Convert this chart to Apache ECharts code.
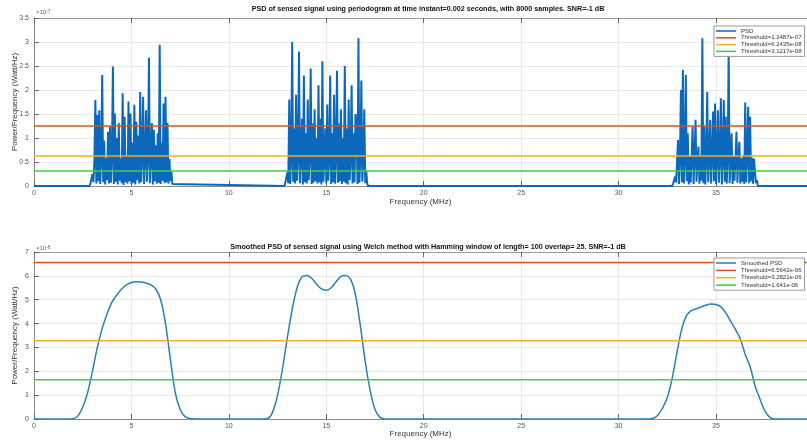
<!DOCTYPE html>
<html lang="en">
<head>
    <meta charset="UTF-8">
    <title>PSD charts</title>
</head>
<style type="text/css">
    *{
        margin: 0;
        padding: 0;
    }
    body{
        background: #fff;
    }
    #main{
        width: 807px;
        height: 442px;
    }
</style>
<body>
<div id="main"></div>
</body>
<script src="https://cdn.jsdelivr.net/npm/echarts/dist/echarts.min.js"></script>
<script>
    // periodogram, values in units of 1e-7 W/Hz, sampled every 0.05 MHz from band start
    var bandStart = [2.85, 12.85, 32.75];
    var bandStep = 0.05;
    var psdBand1 = [0.00,0.06,0.02,0.25,0.08,0.52,1.79,0.05,1.48,0.10,1.58,0.04,0.60,2.31,0.08,0.95,0.03,0.58,0.12,1.13,
        0.05,1.24,0.07,0.62,2.49,0.04,1.51,0.09,1.00,0.03,1.31,0.11,0.57,0.06,1.93,0.02,1.44,0.08,0.63,0.05,
        1.76,0.10,1.51,0.04,0.90,0.07,1.69,0.03,1.34,0.12,1.05,0.05,1.96,0.08,0.60,1.86,0.04,0.55,1.58,0.09,
        0.61,2.67,0.06,0.58,1.31,0.03,1.17,0.10,0.85,0.05,1.10,0.07,2.94,0.04,0.90,0.11,1.72,0.06,1.86,0.08,
        1.31,0.05,0.56,0.10,0.30,0.04,0.00];
    var psdBand2 = [0.00,0.07,0.03,0.28,0.06,1.80,0.04,0.58,3.00,0.09,1.20,0.05,1.90,0.11,0.61,2.80,0.06,0.57,1.40,0.03,
        2.30,0.08,1.10,0.05,1.80,0.12,0.62,2.45,0.04,1.30,0.07,1.60,0.10,1.00,0.05,2.10,0.08,1.40,0.03,2.60,
        0.09,0.59,1.20,0.06,1.70,0.11,0.60,2.30,0.04,1.10,0.08,1.90,0.05,0.63,2.40,0.07,1.30,0.10,1.60,0.04,
        1.00,0.09,2.50,0.06,1.20,0.03,1.80,0.12,0.58,2.10,0.05,1.10,0.08,1.50,1.30,0.04,3.08,0.07,0.60,2.20,
        0.09,0.56,1.60,0.06,0.32,0.05,0.00];
    var psdBand3 = [0.00,0.05,0.02,0.20,0.07,0.50,0.96,0.04,0.60,2.00,0.08,2.42,0.05,0.58,2.31,0.10,1.10,0.03,0.62,0.07,
        0.59,1.24,0.04,0.61,1.38,0.09,0.57,0.82,0.05,0.63,0.11,3.08,0.06,1.24,0.03,0.60,1.96,0.08,0.58,1.38,
        0.05,0.62,1.55,0.10,1.72,0.04,0.59,1.58,0.07,0.61,1.83,0.03,0.57,1.79,0.09,1.44,0.05,0.60,2.83,0.06,
        0.58,1.10,0.04,0.62,0.11,0.59,1.13,0.07,0.61,0.92,0.05,0.58,0.09,0.63,0.04,1.74,0.08,0.60,1.65,0.06,
        1.44,0.10,0.59,0.05,0.57,0.30,0.06,0.12,0.00];
    var psdThresholds = [1.2487, 0.62435, 0.31217];
    var psdNames = ['PSD', 'Threshold=1.2487e-07', 'Threshold=6.2435e-08', 'Threshold=3.1217e-08'];

    // Welch estimate, values in units of 1e-6 W/Hz
    var welchFreq = [0, 1.75, 2.0, 2.25, 2.5, 2.75, 3.0, 3.25, 3.5, 3.75, 4.0, 4.25, 4.5, 4.75, 5.0, 5.25, 5.5, 5.75, 6.0, 6.25,
        6.5, 6.75, 7.0, 7.25, 7.5, 7.75, 8.0, 8.25,
        11.75, 12.0, 12.25, 12.5, 12.75, 13.0, 13.25, 13.5, 13.75, 14.0, 14.25, 14.5, 14.75, 15.0, 15.25, 15.5, 15.75, 16.0,
        16.25, 16.5, 16.75, 17.0, 17.25, 17.5, 17.75, 18.0,
        31.5, 31.75, 32.0, 32.25, 32.5, 32.75, 33.0, 33.25, 33.5, 33.75, 34.0, 34.25, 34.5, 34.75, 35.0, 35.25, 35.5, 35.75,
        36.0, 36.25, 36.5, 36.75, 37.0, 37.25, 37.5, 37.75, 38.0, 39.67];
    var welchPsd = [0, 0, 0.01, 0.12, 0.5, 1.1, 2.0, 3.0, 3.8, 4.4, 4.9, 5.2, 5.45, 5.62, 5.72, 5.75, 5.74, 5.7, 5.62, 5.45,
        5.0, 4.0, 2.5, 1.1, 0.4, 0.1, 0.02, 0,
        0, 0.02, 0.3, 1.0, 2.1, 3.4, 4.6, 5.5, 5.95, 6.02, 5.9, 5.65, 5.45, 5.4, 5.5, 5.75, 5.98, 6.02,
        5.85, 5.2, 3.9, 2.4, 1.2, 0.4, 0.08, 0,
        0, 0.02, 0.15, 0.45, 0.9, 1.7, 2.8, 3.8, 4.35, 4.55, 4.62, 4.7, 4.78, 4.82, 4.8, 4.7, 4.45, 4.1,
        3.75, 3.35, 2.7, 2.2, 1.4, 0.85, 0.35, 0.08, 0, 0];
    var welchThresholds = [6.5642, 3.2821, 1.641];
    var welchNames = ['Smoothed PSD', 'Threshold=6.5642e-06', 'Threshold=3.2821e-06', 'Threshold=1.641e-06'];

    var xMax = 39.67;
    var font = 'Liberation Sans, Arial, sans-serif';
    var lineColors = ['#D95319', '#EDB120', '#3fcf3f'];

    // build periodogram points
    var psdData = [[0, 0]];
    [psdBand1, psdBand2, psdBand3].forEach(function (band, b) {
        for (var i = 0; i < band.length; i++) {
            psdData.push([bandStart[b] + i * bandStep, band[i]]);
        }
    });
    psdData.push([xMax, 0]);

    var welchData = [];
    for (var i = 0; i < welchFreq.length; i++) {
        welchData.push([welchFreq[i], welchPsd[i]]);
    }

    function xAxes(grid, gap) {
        return [{
            gridIndex: grid, type: 'value', min: 0, max: xMax, interval: 5,
            axisLine: {show: true, lineStyle: {color: '#8a8a8a', width: 1}},
            axisTick: {show: true, inside: true, length: 5, lineStyle: {color: '#666'}},
            axisLabel: {fontSize: 7, color: '#555', margin: 4, fontFamily: font, showMaxLabel: false},
            splitLine: {show: true, lineStyle: {color: '#e8e8e8', width: 1}},
            name: 'Frequency (MHz)', nameLocation: 'middle', nameGap: gap, nameMoveOverlap: false,
            nameTextStyle: {fontSize: 8, color: '#333', fontFamily: font}
        }, {
            gridIndex: grid, type: 'value', position: 'top', min: 0, max: xMax, interval: 5,
            axisLine: {show: true, lineStyle: {color: '#9a9a9a', width: 1}},
            axisTick: {show: true, inside: true, length: 5, lineStyle: {color: '#666'}},
            axisLabel: {show: false},
            splitLine: {show: false}
        }];
    }

    function yAxis(grid, max, interval) {
        return {
            gridIndex: grid, type: 'value', min: 0, max: max, interval: interval,
            axisLine: {show: true, lineStyle: {color: '#8a8a8a', width: 1}},
            axisTick: {show: true, inside: true, length: 5, lineStyle: {color: '#666'}},
            axisLabel: {fontSize: 7, color: '#555', margin: 5, fontFamily: font},
            splitLine: {show: true, lineStyle: {color: '#e8e8e8', width: 1}},
            name: 'Power/Frequency (Watt/Hz)', nameLocation: 'middle', nameGap: 15, nameMoveOverlap: false,
            nameTextStyle: {fontSize: 8, color: '#333', fontFamily: font}
        };
    }

    function legend(names, top, gap) {
        return {
            data: names, orient: 'vertical', left: 714, top: top,
            icon: 'rect', itemWidth: 20, itemHeight: 1.5, itemGap: gap,
            selectedMode: false,
            textStyle: {fontSize: 6, color: '#333', fontFamily: font},
            backgroundColor: '#fff', borderColor: '#9a9a9a', borderWidth: 1,
            padding: [2, 3, 2, 2]
        };
    }

    function thresholdSeries(names, values, xIdx, yIdx) {
        return values.map(function (v, k) {
            return {
                name: names[k + 1], type: 'line', xAxisIndex: xIdx, yAxisIndex: yIdx,
                data: [[0, v], [xMax, v]], symbol: 'none', silent: true,
                lineStyle: {color: lineColors[k], width: 1.5},
                itemStyle: {color: lineColors[k]}
            };
        });
    }

    var myChart = echarts.init(document.getElementById('main'));
    var option = {
        animation: false,
        backgroundColor: '#fff',
        title: [{
            text: 'PSD of sensed signal using periodogram at time instant=0.002 seconds, with 8000 samples. SNR=-1 dB',
            left: 423, top: 1, textAlign: 'center',
            textStyle: {fontSize: 7.2, fontWeight: 'bold', color: '#111', fontFamily: font}
        }, {
            text: 'Smoothed PSD of sensed signal using Welch method with Hamming window of length= 100 overlap= 25. SNR=-1 dB',
            left: 423, top: 239, textAlign: 'center',
            textStyle: {fontSize: 7.2, fontWeight: 'bold', color: '#111', fontFamily: font}
        }],
        graphic: [{
            type: 'text', left: 36, top: 9,
            style: {text: '{a|×10}{b|-7}', rich: {a: {fontSize: 6, fill: '#666', fontFamily: font}, b: {fontSize: 5, fill: '#666', verticalAlign: 'top', fontFamily: font}}}
        }, {
            type: 'text', left: 36, top: 245,
            style: {text: '{a|×10}{b|-6}', rich: {a: {fontSize: 6, fill: '#666', fontFamily: font}, b: {fontSize: 5, fill: '#666', verticalAlign: 'top', fontFamily: font}}}
        }],
        legend: [legend(psdNames, 26, 0.8), legend(welchNames, 258, 1.4)],
        grid: [
            {left: 34, top: 18, right: 0, height: 168, containLabel: false, outerBoundsMode: 'none'},
            {left: 34, top: 252, right: 0, height: 167, containLabel: false, outerBoundsMode: 'none'}
        ],
        xAxis: xAxes(0, 12).concat(xAxes(1, 11)),
        yAxis: [yAxis(0, 3.5, 0.5), yAxis(1, 7, 1)],
        series: [{
            name: psdNames[0], type: 'line', xAxisIndex: 0, yAxisIndex: 0,
            data: psdData, symbol: 'none', sampling: null, silent: true, clip: false,
            lineStyle: {color: '#0b68bd', width: 2},
            itemStyle: {color: '#0b68bd'}
        }].concat(thresholdSeries(psdNames, psdThresholds, 0, 0)).concat([{
            name: welchNames[0], type: 'line', xAxisIndex: 2, yAxisIndex: 1,
            data: welchData, symbol: 'none', smooth: 0.3, silent: true,
            lineStyle: {color: '#2a80b4', width: 1.5},
            itemStyle: {color: '#2a80b4'}
        }]).concat(thresholdSeries(welchNames, welchThresholds, 2, 1))
    };
    // 渲染
    myChart.setOption(option);
</script>
</html>
